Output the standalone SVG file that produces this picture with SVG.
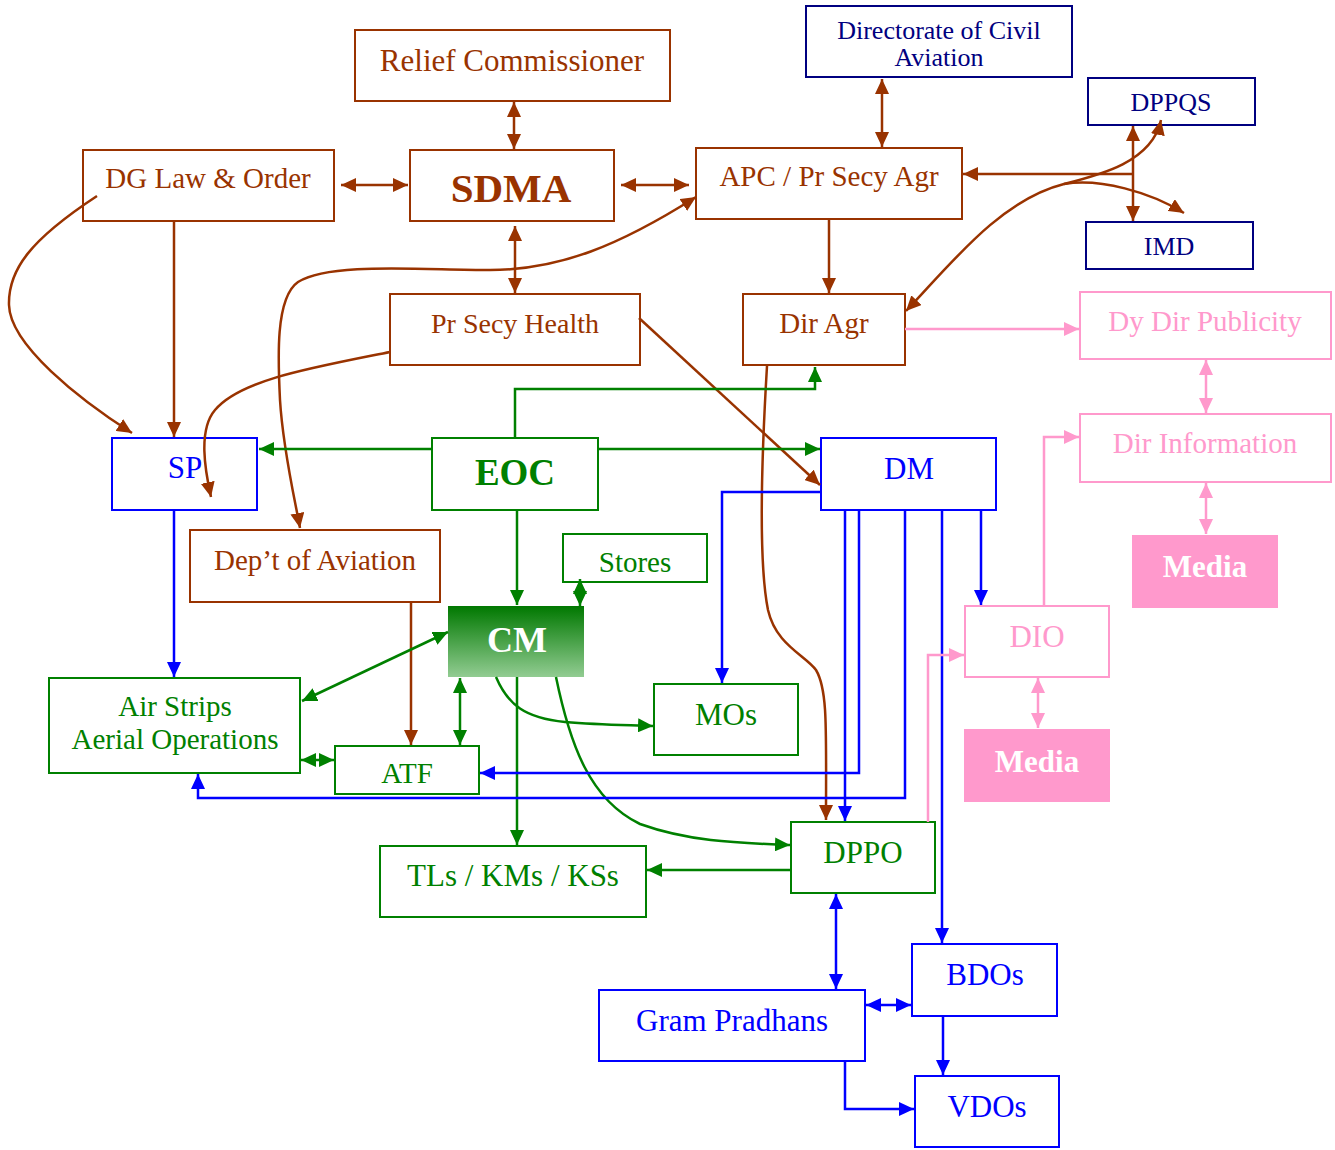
<svg xmlns="http://www.w3.org/2000/svg" width="1335" height="1150" viewBox="0 0 1335 1150">
<defs>
<style>
text{font-family:"Liberation Serif","Times New Roman",serif;text-anchor:middle}
.box{fill:#fff;stroke-width:2}
.br{stroke:#993300}.brt{fill:#993300}
.nv{stroke:#000080}.nvt{fill:#000080}
.bl{stroke:#0000ff}.blt{fill:#0000ff}
.gr{stroke:#008000}.grt{fill:#008000}
.pk{stroke:#ff99cc}.pkt{fill:#ff99cc}
.c{fill:none;stroke-width:2.5}
.cb{stroke:#993300}.cg{stroke:#008000}.cbl{stroke:#0000ff}.cp{stroke:#ff99cc}
</style>
<linearGradient id="cmg" x1="0" y1="0" x2="0" y2="1">
<stop offset="0" stop-color="#007800"/>
<stop offset="1" stop-color="#92cc92"/>
</linearGradient>
<marker id="ab" markerUnits="userSpaceOnUse" markerWidth="15" markerHeight="14" refX="15" refY="7" orient="auto-start-reverse"><path d="M0,0 L15,7 L0,14 z" fill="#993300"/></marker>
<marker id="ag" markerUnits="userSpaceOnUse" markerWidth="15" markerHeight="14" refX="15" refY="7" orient="auto-start-reverse"><path d="M0,0 L15,7 L0,14 z" fill="#008000"/></marker>
<marker id="abl" markerUnits="userSpaceOnUse" markerWidth="15" markerHeight="14" refX="15" refY="7" orient="auto-start-reverse"><path d="M0,0 L15,7 L0,14 z" fill="#0000ff"/></marker>
<marker id="ap" markerUnits="userSpaceOnUse" markerWidth="15" markerHeight="14" refX="15" refY="7" orient="auto-start-reverse"><path d="M0,0 L15,7 L0,14 z" fill="#ff99cc"/></marker>
</defs>
<rect width="1335" height="1150" fill="#fff"/>
<g id="nodes">
<g id="relief"><rect class="box br" x="355" y="30" width="315" height="71"/><text class="brt" x="512" y="71" font-size="31">Relief Commissioner</text></g>
<g id="dca"><rect class="box nv" x="806" y="6" width="266" height="71"/><text class="nvt" x="939" y="39" font-size="26">Directorate of Civil</text><text class="nvt" x="939" y="66" font-size="26">Aviation</text></g>
<g id="dppqs"><rect class="box nv" x="1088" y="78" width="167" height="47"/><text class="nvt" x="1171" y="111" font-size="26">DPPQS</text></g>
<g id="imd"><rect class="box nv" x="1086" y="222" width="167" height="47"/><text class="nvt" x="1169" y="255" font-size="26">IMD</text></g>
<g id="dglaw"><rect class="box br" x="83" y="150" width="251" height="71"/><text class="brt" x="208" y="188" font-size="29">DG Law &amp; Order</text></g>
<g id="sdma"><rect class="box br" x="410" y="150" width="204" height="71"/><text class="brt" x="511" y="202" font-size="41" font-weight="bold">SDMA</text></g>
<g id="apc"><rect class="box br" x="696" y="148" width="266" height="71"/><text class="brt" x="829" y="186" font-size="29">APC / Pr Secy Agr</text></g>
<g id="psh"><rect class="box br" x="390" y="294" width="250" height="71"/><text class="brt" x="515" y="333" font-size="28">Pr Secy Health</text></g>
<g id="diragr"><rect class="box br" x="743" y="294" width="162" height="71"/><text class="brt" x="824" y="333" font-size="29">Dir Agr</text></g>
<g id="dydir"><rect class="box pk" x="1080" y="292" width="251" height="67"/><text class="pkt" x="1205" y="331" font-size="29">Dy Dir Publicity</text></g>
<g id="dirinfo"><rect class="box pk" x="1080" y="414" width="251" height="68"/><text class="pkt" x="1205" y="453" font-size="29">Dir Information</text></g>
<g id="media1"><rect x="1132" y="535" width="146" height="73" fill="#ff99cc"/><text x="1205" y="577" font-size="31" font-weight="bold" fill="#fff">Media</text></g>
<g id="sp"><rect class="box bl" x="112" y="438" width="145" height="72"/><text class="blt" x="185" y="478" font-size="31">SP</text></g>
<g id="eoc"><rect class="box gr" x="432" y="438" width="166" height="72"/><text class="grt" x="515" y="485" font-size="37" font-weight="bold">EOC</text></g>
<g id="dm"><rect class="box bl" x="821" y="438" width="175" height="72"/><text class="blt" x="909" y="479" font-size="31">DM</text></g>
<g id="dept"><rect class="box br" x="190" y="530" width="250" height="72"/><text class="brt" x="315" y="570" font-size="29">Dep’t of Aviation</text></g>
<g id="stores"><rect class="box gr" x="563" y="534" width="144" height="48"/><text class="grt" x="635" y="572" font-size="29">Stores</text></g>
<g id="cm"><rect x="448" y="606" width="136" height="71" fill="url(#cmg)"/><text x="517" y="652" font-size="36" font-weight="bold" fill="#fff">CM</text></g>
<g id="dio"><rect class="box pk" x="965" y="606" width="144" height="71"/><text class="pkt" x="1037" y="647" font-size="31">DIO</text></g>
<g id="airstrips"><rect class="box gr" x="49" y="678" width="251" height="95"/><text class="grt" x="175" y="716" font-size="29">Air Strips</text><text class="grt" x="175" y="749" font-size="29">Aerial Operations</text></g>
<g id="mos"><rect class="box gr" x="654" y="684" width="144" height="71"/><text class="grt" x="726" y="725" font-size="31">MOs</text></g>
<g id="atf"><rect class="box gr" x="335" y="746" width="144" height="48"/><text class="grt" x="407" y="783" font-size="29">ATF</text></g>
<g id="media2"><rect x="964" y="729" width="146" height="73" fill="#ff99cc"/><text x="1037" y="772" font-size="31" font-weight="bold" fill="#fff">Media</text></g>
<g id="tls"><rect class="box gr" x="380" y="846" width="266" height="71"/><text class="grt" x="513" y="886" font-size="31">TLs / KMs / KSs</text></g>
<g id="dppo"><rect class="box gr" x="791" y="822" width="144" height="71"/><text class="grt" x="863" y="863" font-size="31">DPPO</text></g>
<g id="bdos"><rect class="box bl" x="912" y="944" width="145" height="72"/><text class="blt" x="985" y="985" font-size="31">BDOs</text></g>
<g id="gram"><rect class="box bl" x="599" y="990" width="266" height="71"/><text class="blt" x="732" y="1031" font-size="31">Gram Pradhans</text></g>
<g id="vdos"><rect class="box bl" x="915" y="1076" width="144" height="71"/><text class="blt" x="987" y="1117" font-size="31">VDOs</text></g>
</g>
<g id="connectors">
<path class="c cb" d="M514,102 L514,149" marker-start="url(#ab)" marker-end="url(#ab)"/>
<path class="c cb" d="M341,185 L408,185" marker-start="url(#ab)" marker-end="url(#ab)"/>
<path class="c cb" d="M621,185 L689,185" marker-start="url(#ab)" marker-end="url(#ab)"/>
<path class="c cb" d="M515,226 L515,293" marker-start="url(#ab)" marker-end="url(#ab)"/>
<path class="c cb" d="M882,79 L882,147" marker-start="url(#ab)" marker-end="url(#ab)"/>
<path class="c cb" d="M1133,174 L963,174" marker-end="url(#ab)"/>
<path class="c cb" d="M1133,126 L1133,221" marker-start="url(#ab)" marker-end="url(#ab)"/>
<path class="c cb" d="M829,220 L829,293" marker-end="url(#ab)"/>
<path class="c cb" d="M906,311 C950,265 1000,200 1064,184 C1100,175 1152,162 1161,120" marker-start="url(#ab)" marker-end="url(#ab)"/>
<path class="c cb" d="M1064,184 C1100,178 1150,192 1184,213" marker-end="url(#ab)"/>
<path class="c cb" d="M174,221 L174,437" marker-end="url(#ab)"/>
<path class="c cb" d="M97,196 C30,240 8,270 9,305 C10,345 80,400 132,433" marker-end="url(#ab)"/>
<path class="c cb" d="M696,197 C620,245 560,270 490,270 C420,270 330,262 298,282 C275,298 278,360 280,400 C283,450 295,500 300,528" marker-start="url(#ab)" marker-end="url(#ab)"/>
<path class="c cb" d="M390,352 C310,368 240,380 215,410 C198,430 205,470 211,497" marker-end="url(#ab)"/>
<path class="c cb" d="M639,318 L820,485" marker-end="url(#ab)"/>
<path class="c cb" d="M767,366 C762,450 758,560 768,610 C776,645 805,655 816,670 C828,690 826,730 826,820" marker-end="url(#ab)"/>
<path class="c cb" d="M411,602 L411,745" marker-end="url(#ab)"/>
<path class="c cg" d="M432,449 L259,449" marker-end="url(#ag)"/>
<path class="c cg" d="M598,449 L820,449" marker-end="url(#ag)"/>
<path class="c cg" d="M515,438 L515,389 L815,389 L815,367" stroke-width="2" marker-end="url(#ag)"/>
<path class="c cg" d="M517,510 L517,605" marker-end="url(#ag)"/>
<path class="c cg" d="M580,579 L580,606" marker-start="url(#ag)" marker-end="url(#ag)"/>
<path class="c cg" d="M448,632 L302,701" marker-start="url(#ag)" marker-end="url(#ag)"/>
<path class="c cg" d="M460,678 L460,745" marker-start="url(#ag)" marker-end="url(#ag)"/>
<path class="c cg" d="M301,760 L334,760" marker-start="url(#ag)" marker-end="url(#ag)"/>
<path class="c cg" d="M517,677 L517,845" marker-end="url(#ag)"/>
<path class="c cg" d="M496,677 C508,705 525,718 565,722 C600,725 630,725 653,726" marker-end="url(#ag)"/>
<path class="c cg" d="M556,677 C570,745 590,800 640,824 C690,842 740,843 790,845" marker-end="url(#ag)"/>
<path class="c cg" d="M791,870 L647,870" marker-end="url(#ag)"/>
<path class="c cbl" d="M174,510 L174,677" marker-end="url(#abl)"/>
<path class="c cbl" d="M821,492 L722,492 L722,683" marker-end="url(#abl)"/>
<path class="c cbl" d="M859,510 L859,773 L480,773" marker-end="url(#abl)"/>
<path class="c cbl" d="M905,510 L905,798 L198,798 L198,774" stroke-width="2" marker-end="url(#abl)"/>
<path class="c cbl" d="M845,510 L845,821" stroke-width="3" marker-end="url(#abl)"/>
<path class="c cbl" d="M942,510 L942,943" stroke-width="3" marker-end="url(#abl)"/>
<path class="c cbl" d="M981,510 L981,605" stroke-width="3" marker-end="url(#abl)"/>
<path class="c cbl" d="M836,894 L836,989" stroke-width="3" marker-start="url(#abl)" marker-end="url(#abl)"/>
<path class="c cbl" d="M866,1005 L911,1005" stroke-width="3" marker-start="url(#abl)" marker-end="url(#abl)"/>
<path class="c cbl" d="M943,1016 L943,1075" stroke-width="3" marker-end="url(#abl)"/>
<path class="c cbl" d="M845,1061 L845,1109 L914,1109" marker-end="url(#abl)"/>
<path class="c cp" d="M905,329 L1079,329" marker-end="url(#ap)"/>
<path class="c cp" d="M1206,360 L1206,413" marker-start="url(#ap)" marker-end="url(#ap)"/>
<path class="c cp" d="M1206,483 L1206,534" marker-start="url(#ap)" marker-end="url(#ap)"/>
<path class="c cp" d="M1044,606 L1044,437 L1079,437" stroke-width="2" marker-end="url(#ap)"/>
<path class="c cp" d="M1038,678 L1038,728" marker-start="url(#ap)" marker-end="url(#ap)"/>
<path class="c cp" d="M928,822 L928,655 L964,655" stroke-width="2" marker-end="url(#ap)"/>
</g>
</svg>
